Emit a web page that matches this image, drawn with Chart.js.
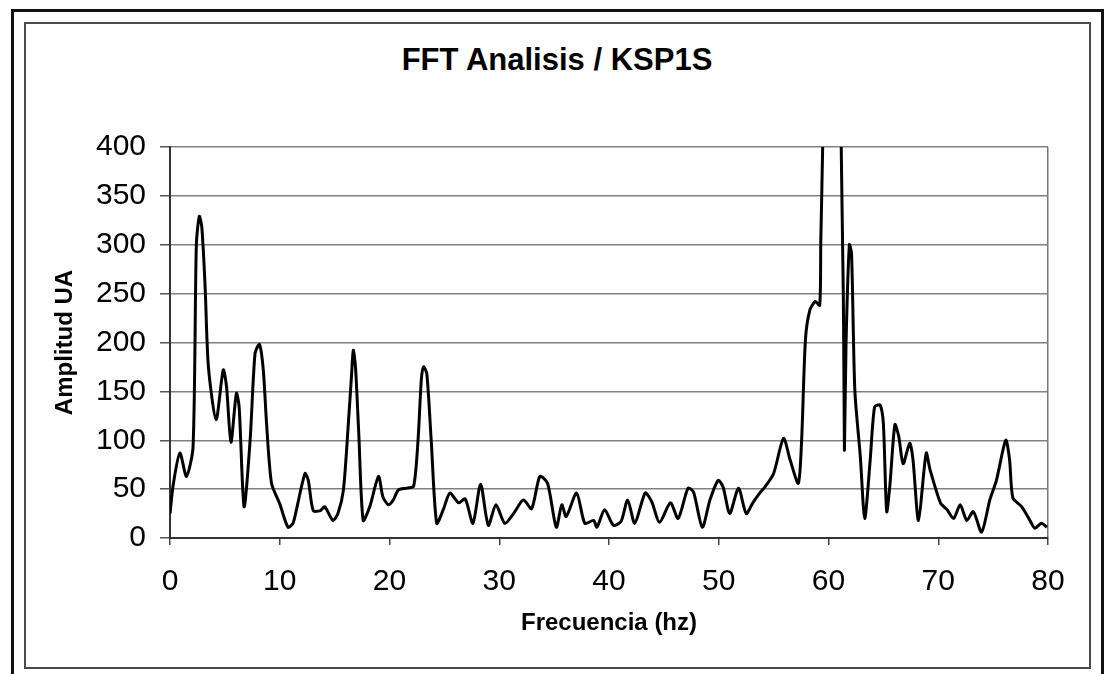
<!DOCTYPE html>
<html lang="es">
<head>
  <meta charset="UTF-8" />
  <title>FFT Analisis / KSP1S</title>
  <script src="https://cdn.jsdelivr.net/npm/chart.js@4.4.0/dist/chart.umd.min.js"></script>
  <style>
    html, body { margin: 0; padding: 0; background: #fff; }
    body { width: 1108px; height: 674px; position: relative; overflow: hidden; }
    .frame-outer {
      position: absolute; left: 11px; top: 9px; width: 1093px; height: 700px;
      border: 3px solid #111; box-sizing: border-box;
    }
    .frame-inner {
      position: absolute; left: 24px; top: 22px; width: 1067px; height: 647px;
      border: 2px solid #4c4752; box-sizing: border-box;
    }
    .chart-title {
      position: absolute; left: 357px; width: 400px; top: 42px;
      text-align: center; font: bold 31px 'Liberation Sans', Arial, sans-serif;
      line-height: 36px; color: #000;
    }
    #fft { position: absolute; left: 0; top: 0; }
  </style>
</head>
<body>
<div class="frame-outer"></div>
<div class="frame-inner"></div>
<div class="chart-title">FFT Analisis / KSP1S</div>
<canvas id="fft" width="1108" height="674"></canvas>

<script>
// frequency (hz) and amplitude
const freqs = [
  0.0, 0.3, 0.9, 1.5, 2.1, 2.4, 2.67, 2.9, 3.2, 3.5, 4.2, 4.85, 5.15, 5.55, 6.05, 6.3, 6.75,
  7.3, 7.75, 8.15, 8.5, 8.8, 9.25, 10.0, 10.75, 11.2, 11.5, 12.3, 12.6, 13.05, 13.7, 14.1,
  14.85, 15.3, 15.8, 16.25, 16.55, 16.7, 16.9, 17.2, 17.6, 18.2, 19.0, 19.4, 19.9, 20.35,
  20.8, 21.6, 22.2, 22.6, 22.9, 23.1, 23.4, 23.8, 24.3, 24.9, 25.5, 26.3, 26.9, 27.6, 28.3,
  29.0, 29.7, 30.5, 31.3, 32.2, 32.95, 33.7, 34.4, 35.2, 35.7, 36.1, 37.05, 37.8, 38.6, 38.9,
  39.6, 40.4, 41.1, 41.7, 42.35, 43.3, 43.9, 44.6, 45.6, 46.3, 47.2, 47.7, 48.5, 49.2, 49.95,
  50.4, 51.0, 51.8, 52.5, 53.1, 53.8, 54.2, 55.0, 55.9, 56.5, 57.25, 57.55, 57.9, 58.3, 58.8,
  59.2, 59.3, 60.4, 61.35, 61.45, 61.6, 61.9, 62.1, 62.4, 62.9, 63.3, 63.8, 64.2, 64.7, 65.0, 65.3,
  65.6, 66.05, 66.4, 66.8, 67.4, 67.7, 68.2, 68.9, 69.25, 70.2, 70.8, 71.4, 72.0, 72.6, 73.2,
  73.95, 74.7, 75.3, 76.15, 76.5, 76.8, 77.6, 78.4, 78.8, 79.4, 79.9
];
const amps = [
  25, 55, 87, 63, 93, 300, 329, 318, 257, 175, 121, 172, 155, 98, 148, 134, 32,
  100, 189, 198, 172, 117, 56, 35, 11, 15, 28, 66, 59, 28, 28, 32,
  18, 25, 49, 117, 168, 192, 175, 107, 18, 32, 63, 42, 34, 39,
  49, 51, 53, 100, 162, 175, 168, 100, 15, 29, 46, 36, 40, 15, 55,
  13, 34, 15, 25, 39, 30, 63, 56, 11, 34, 22, 46, 15, 18, 11,
  29, 13, 17, 39, 15, 46, 37, 16, 36, 20, 51, 47, 11, 39, 59,
  52, 25, 51, 25, 36, 47, 52, 66, 102, 80, 56, 100, 203, 233, 242,
  238, 305, 850, 250, 90, 200, 300, 291, 151, 83, 20, 80, 134, 136, 117, 27,
  55, 116, 104, 76, 97, 80, 18, 87, 70, 36, 29, 20, 34, 18, 27,
  6, 39, 59, 100, 80, 41, 32, 17, 10, 15, 11
];

const xMin = 0, xMax = 80, xStep = 10;
const yMin = 0, yMax = 400, yStep = 50;

Chart.defaults.font.family = "'Liberation Sans', Arial, sans-serif";
Chart.defaults.color = '#000';

new Chart(document.getElementById('fft').getContext('2d'), {
  type: 'line',
  data: {
    datasets: [{
      data: freqs.map((f, i) => ({ x: f, y: amps[i] })),
      borderColor: '#000',
      borderWidth: 3,
      pointRadius: 0,
      tension: 0.25,
      fill: false
    }]
  },
  options: {
    responsive: false,
    animation: false,
    layout: { padding: { left: 0, right: 60, top: 147, bottom: 0 } },
    plugins: {
      legend: { display: false },
      tooltip: { enabled: false }
    },
    scales: {
      x: {
        type: 'linear',
        min: xMin, max: xMax,
        ticks: { stepSize: xStep, color: '#000', font: { size: 30 }, padding: 19, maxRotation: 0 },
        grid: {
          color: ctx => (ctx.tick && ctx.tick.value === xMax) ? '#777' : 'rgba(0,0,0,0)',
          lineWidth: 1.5,
          tickColor: '#444',
          tickLength: 7
        },
        border: { color: '#333', width: 2 },
        title: {
          display: true,
          text: 'Frecuencia (hz)',
          color: '#000',
          font: { size: 24, weight: 'bold' },
          padding: { top: 0, bottom: 36 }
        },
        afterFit: s => { s.height = 136; }
      },
      y: {
        min: yMin, max: yMax,
        ticks: { stepSize: yStep, color: '#000', font: { size: 30 }, padding: 14 },
        grid: { color: '#808080', lineWidth: 1.5, tickColor: '#555', tickLength: 10 },
        border: { color: '#333', width: 2 },
        title: {
          display: true,
          text: 'Amplitud UA',
          color: '#000',
          font: { size: 24, weight: 'bold' },
          padding: { top: 51, bottom: 0 }
        },
        afterFit: s => { s.width = 170; }
      }
    }
  }
});
</script>
</body>
</html>
